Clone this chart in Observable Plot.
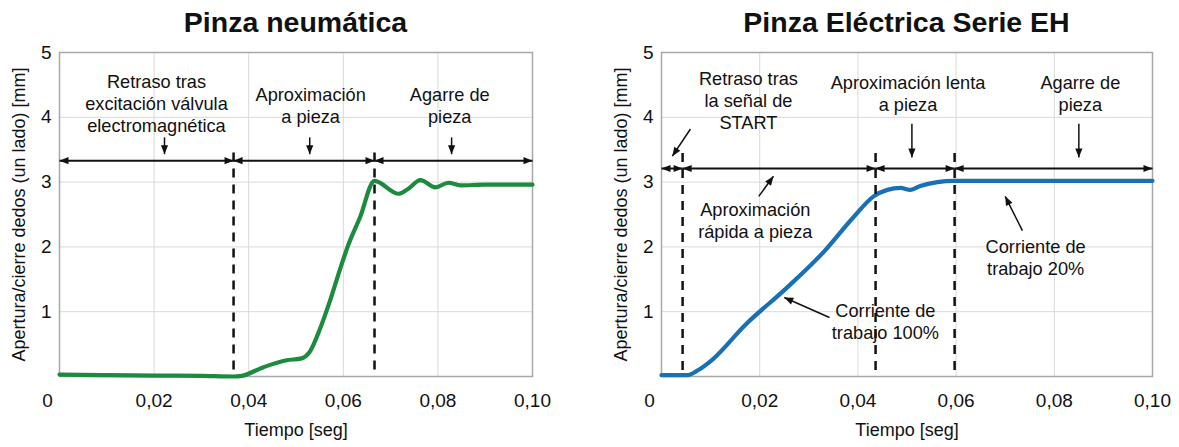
<!DOCTYPE html>
<html><head><meta charset="utf-8">
<script src="https://cdn.jsdelivr.net/npm/d3@7"></script>
<script src="https://cdn.jsdelivr.net/npm/@observablehq/plot@0.6"></script>
<style>
body{margin:0;background:#fff;font-family:"Liberation Sans",Arial,sans-serif;}
#wrap{display:flex;width:1179px;height:447px;overflow:hidden}
.panel{display:flex;flex-direction:column}
.title{height:34px;line-height:44px;font-weight:bold;font-size:28.5px;text-align:center;color:#111;white-space:nowrap;box-sizing:border-box;overflow:visible}
svg{display:block}
</style></head><body><div id="wrap"></div><script>
// ---------- data ----------
const xTicks = [0, 0.02, 0.04, 0.06, 0.08, 0.10];
const yTicks = [1, 2, 3, 4, 5];

// Pinza neumática
const pneuTime = [0, 0.01, 0.02, 0.03, 0.0368, 0.0385, 0.043, 0.048, 0.0512, 0.0528, 0.0552, 0.0572, 0.0592, 0.061, 0.0635, 0.0666, 0.0717, 0.0736, 0.0763, 0.0795, 0.0822, 0.0848, 0.09, 0.1];
const pneuOpen = [0.03, 0.02, 0.015, 0.01, 0.0, 0.01, 0.14, 0.25, 0.28, 0.37, 0.76, 1.17, 1.63, 2.02, 2.45, 3.02, 2.82, 2.89, 3.03, 2.92, 2.99, 2.95, 2.96, 2.96];
const pneuPhaseBounds = [0, 0.0368, 0.0666, 0.1];
const pneuPhaseTexts = ["Retraso tras\nexcitación válvula\nelectromagnética", "Aproximación\na pieza", "Agarre de\npieza"];
const pneuPhaseTextX = [0.0205, 0.0531, 0.0825];
const pneuPhaseTextY = [4.22, 4.19, 4.19];
const pneuDownX = [0.0222, 0.0529, 0.0829];

// Pinza Eléctrica Serie EH
const ehTime = [0, 0.0052, 0.0075, 0.0102, 0.0171, 0.0254, 0.033, 0.039, 0.0432, 0.046, 0.0487, 0.0507, 0.0527, 0.0562, 0.0595, 0.07, 0.08, 0.09, 0.1];
const ehOpen = [0.02, 0.02, 0.1, 0.25, 0.80, 1.36, 1.92, 2.45, 2.78, 2.88, 2.91, 2.88, 2.94, 3.00, 3.02, 3.02, 3.02, 3.02, 3.02];
const ehPhaseBounds = [0, 0.0043, 0.0436, 0.0597, 0.1];
const ehPhaseTexts = ["Retraso tras\nla señal de\nSTART", "Aproximación lenta\na pieza", "Agarre de\npieza"];
const ehPhaseTextX = [0.0177, 0.0502, 0.0853];
const ehPhaseTextY = [4.27, 4.37, 4.37];
const ehDownX = [0.051, 0.085];
const ehNotes = ["Aproximación\nrápida a pieza", "Corriente de\ntrabajo 100%", "Corriente de\ntrabajo 20%"];
const ehNoteX = [0.0191, 0.0456, 0.0762];
const ehNoteY = [2.41, 0.85, 1.85];
const ehLeaderFrom = [[0.0059, 3.82], [0.0198, 2.78], [0.0342, 0.91], [0.0735, 2.25]];
const ehLeaderTo = [[0.0022, 3.40], [0.0228, 3.09], [0.025, 1.22], [0.070, 2.78]];

const yLabel = "Apertura/cierre dedos (un lado) [mm]";
const xLabel = "Tiempo [seg]";

// ---------- drawing ----------
const FONT = "Liberation Sans, Arial, sans-serif";
function headMarker(color) {
  const m = d3.create("svg:marker")
    .attr("viewBox", "-10 -5 10 10")
    .attr("markerWidth", 10).attr("markerHeight", 10)
    .attr("markerUnits", "userSpaceOnUse")
    .attr("orient", "auto-start-reverse");
  m.append("path").attr("d", "M-9,-3.6L0,0L-9,3.6Z").attr("fill", color).attr("stroke", "none");
  return m.node();
}
const fmt = d => d === 0 ? "0" : d.toFixed(2).replace(".", ",");

function panel(o) {
  const series = o.time.map((t, i) => ({t, v: o.open[i]}));
  const segs = o.bounds.slice(0, -1).map((b, i) => ({a: b, b: o.bounds[i + 1]}));
  const dashes = o.bounds.slice(1, -1);
  const phase = o.texts.map((s, i) => ({s, x: o.textX[i], y: o.textY[i]}));
  const downs = o.downX.map(x => ({x}));
  const marks = [
    Plot.gridX(xTicks.slice(1, -1), {stroke: "#d9d9d9", strokeOpacity: 1, strokeWidth: 1}),
    Plot.gridY(yTicks.slice(0, -1), {stroke: "#d9d9d9", strokeOpacity: 1, strokeWidth: 1}),
    Plot.frame({stroke: "#a8a8a8", strokeWidth: 1.5}),
    Plot.axisX(xTicks.slice(1), {tickSize: 0, tickPadding: 17, tickFormat: fmt, fontSize: 19, label: null}),
    Plot.axisX([0], {tickSize: 0, tickPadding: 17, tickFormat: fmt, fontSize: 19, label: null, dx: -12}),
    Plot.axisY(yTicks, {tickSize: 0, tickPadding: 8, tickFormat: d => String(d), fontSize: 19, label: null}),
    Plot.text([yLabel], {text: d => d, frameAnchor: "left", textAnchor: "middle", rotate: -90, dx: -40, fontSize: 18, fill: "#111"}),
    Plot.text([xLabel], {text: d => d, frameAnchor: "bottom", dy: 59, fontSize: 18, fill: "#111"}),
    Plot.line(series, {x: "t", y: "v", stroke: o.color, strokeWidth: 4.2, curve: "monotone-x"}),
    Plot.ruleX(dashes, {x: d => d, y1: o.dashTop, y2: 0, stroke: "#111", strokeWidth: 2.5, strokeDasharray: "9,7"}),
    Plot.link(segs, {x1: "a", x2: "b", y1: o.arrowY, y2: o.arrowY, stroke: "#111", strokeWidth: 2, markerStart: headMarker, markerEnd: headMarker}),
    Plot.link(downs, {x1: "x", x2: "x", y1: o.downY1, y2: o.downY2, stroke: "#111", strokeWidth: 1.5, markerEnd: headMarker}),
    Plot.text(phase, {x: "x", y: "y", text: "s", fontSize: 18.2, lineHeight: 1.2, fill: "#111"})
  ];
  if (o.notes) {
    const notes = o.notes.map((s, i) => ({s, x: o.noteX[i], y: o.noteY[i]}));
    const leaders = o.leadFrom.map((f, i) => ({x1: f[0], y1: f[1], x2: o.leadTo[i][0], y2: o.leadTo[i][1]}));
    marks.push(Plot.link(leaders, {x1: "x1", y1: "y1", x2: "x2", y2: "y2", stroke: "#111", strokeWidth: 1.5, markerEnd: headMarker}));
    marks.push(Plot.text(notes, {x: "x", y: "y", text: "s", fontSize: 18.2, lineHeight: 1.2, fill: "#111"}));
  }
  const chart = Plot.plot({
    width: o.width, height: 413,
    marginLeft: o.ml, marginRight: o.mr, marginTop: 18, marginBottom: 71,
    x: {domain: [0, 0.1], axis: null},
    y: {domain: [0, 5], axis: null},
    style: {fontFamily: FONT, color: "#111", background: "transparent"},
    marks
  });
  const div = document.createElement("div");
  div.className = "panel";
  div.style.width = o.width + "px";
  const t = document.createElement("div");
  t.className = "title";
  t.style.paddingLeft = (o.ml - o.mr) + "px";
  t.textContent = o.title;
  div.appendChild(t);
  div.appendChild(chart);
  document.getElementById("wrap").appendChild(div);
}

panel({title: "Pinza neumática", time: pneuTime, open: pneuOpen, color: "#1c8b3e",
  bounds: pneuPhaseBounds, texts: pneuPhaseTexts, textX: pneuPhaseTextX, textY: pneuPhaseTextY,
  downX: pneuDownX, downY1: 3.69, downY2: 3.43, arrowY: 3.33, dashTop: 3.45,
  width: 590, ml: 59, mr: 58});
panel({title: "Pinza Eléctrica Serie EH", time: ehTime, open: ehOpen, color: "#1870b5",
  bounds: ehPhaseBounds, texts: ehPhaseTexts, textX: ehPhaseTextX, textY: ehPhaseTextY,
  downX: ehDownX, downY1: 3.9, downY2: 3.38, arrowY: 3.21, dashTop: 3.44,
  notes: ehNotes, noteX: ehNoteX, noteY: ehNoteY, leadFrom: ehLeaderFrom, leadTo: ehLeaderTo,
  width: 589, ml: 71, mr: 27});
</script></body></html>
